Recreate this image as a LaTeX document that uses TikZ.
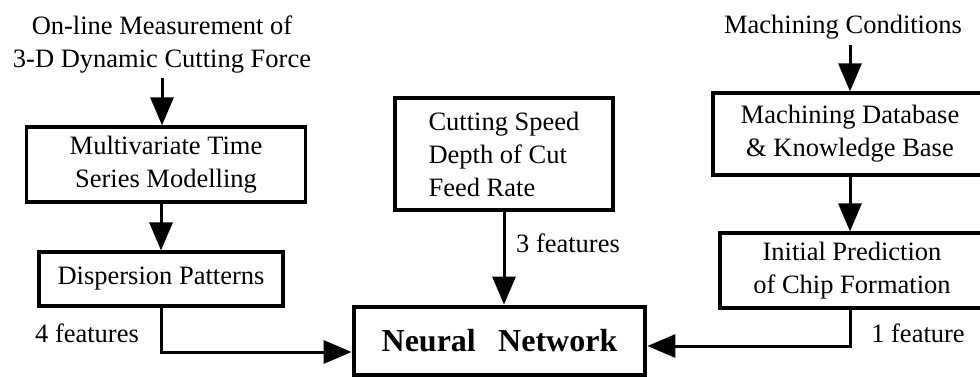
\documentclass[tikz,border=0pt]{standalone}
\usepackage{fontspec}
\setmainfont{Liberation Serif}
\usetikzlibrary{arrows.meta}
\begin{document}
\begin{tikzpicture}[x=1pt,y=-1pt,
  txt/.style={font=\fontsize{26.5}{33}\selectfont, inner sep=0pt, align=center},
  boxed/.style={draw, line width=3.2pt, txt, minimum width=#1},
  conn/.style={line width=3pt, -{Triangle[width=23pt,length=28pt]}}]
\useasboundingbox (0,0) rectangle (980,377);

% inputs on the left: force measurement chain
\node[txt] (src) at (162,45) {On-line Measurement of\\3-D Dynamic Cutting Force};
\node[boxed=279pt, minimum height=75pt] (mts) at (166,164.5) {Multivariate Time\\Series Modelling};
\node[boxed=244pt, minimum height=54pt] (dp) at (161,279) {Dispersion Patterns};
\node[txt] (f4) at (87,333) {4 features};

% cutting parameters in the middle
\node[boxed=218pt, minimum height=112pt, align=left] (cs) at (504,154)
  {Cutting Speed\\Depth of Cut\\Feed Rate};
\node[txt] (f3) at (568,243) {3 features};

% knowledge-based chain on the right
\node[txt] (mc) at (843,27) {Machining Conditions};
\node[boxed=274pt, minimum height=82pt] (mdb) at (850,134) {Machining Database\\\& Knowledge Base};
\node[boxed=264pt, minimum height=75pt] (ip) at (852,270.5) {Initial Prediction\\of Chip Formation};
\node[txt] (f1) at (918,333) {1 feature};

% the network itself
\node[draw, line width=4.8pt, minimum width=291pt, minimum height=68pt, inner sep=0pt,
  font=\fontsize{32}{36}\selectfont\bfseries] (nn) at (499.5,341) {Neural\hspace{0.7em}Network};

% connectors
\draw[conn] ([yshift=-4pt]src.south) -- (src.south |- mts.north);
\draw[conn] (mts.south -| dp.north) -- (dp.north);
\draw[conn] (dp.south) |- ([yshift=-11pt]nn.west);
\draw[conn] (cs.south) -- (cs.south |- nn.north);
\draw[conn] ([yshift=-6pt]mc.south -| mdb.north) -- (mdb.north);
\draw[conn] (mdb.south) -- (mdb.south |- ip.north);
\draw[conn] (ip.south -| mdb.south) |- ([yshift=-5pt]nn.east);
\end{tikzpicture}
\end{document}
